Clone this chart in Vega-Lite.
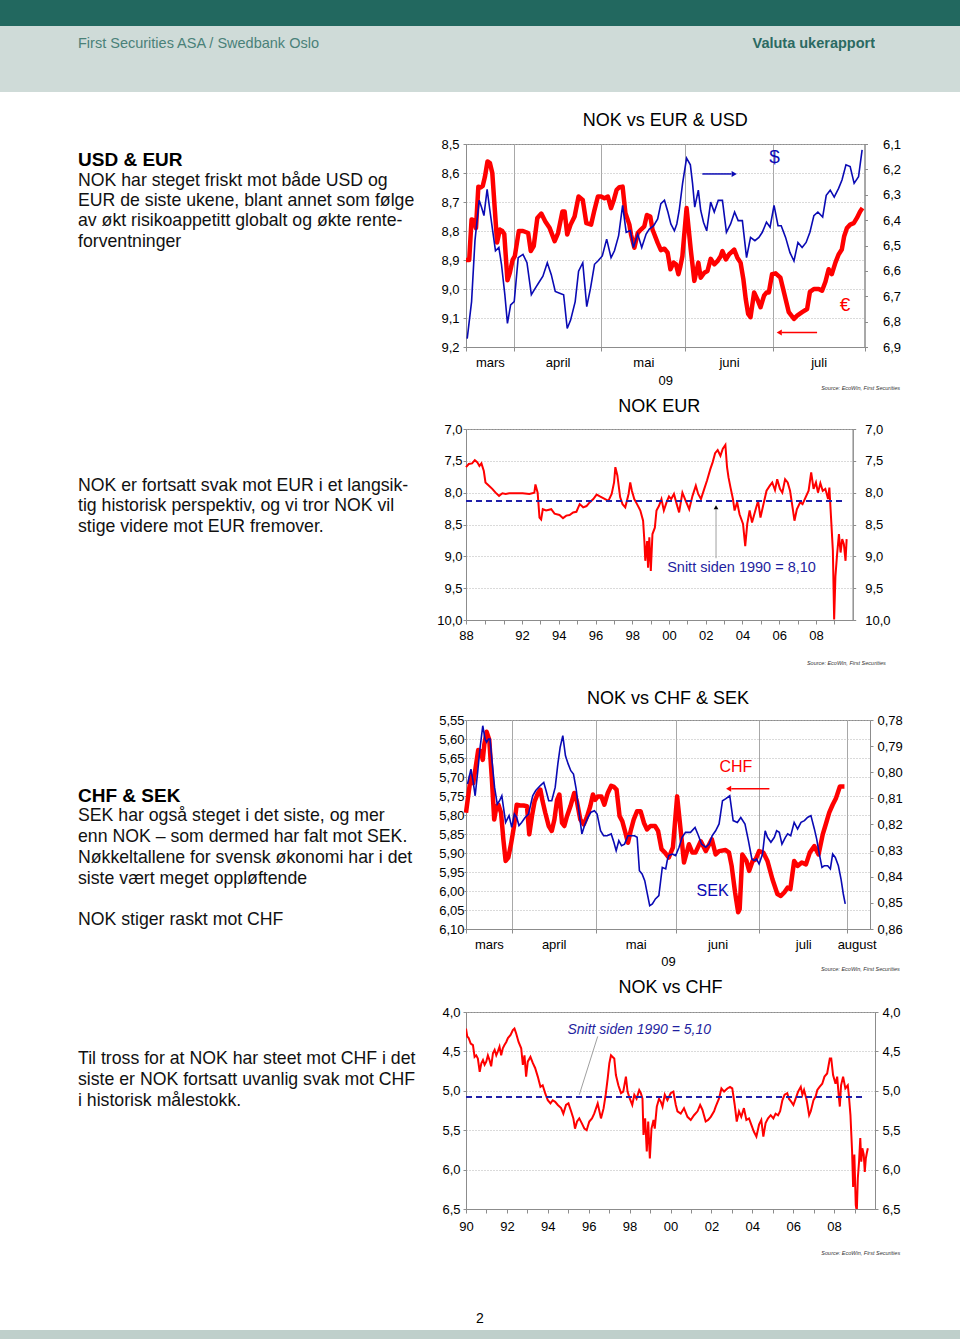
{
"$schema": "https://vega.github.io/schema/vega-lite/v6.json",
"padding": 0,
"background": "#ffffff",
"bounds": "flush",
"columns": 4,
"align": "each",
"spacing": {"row": 0, "column": 0},
"config": {
  "font": "Liberation Sans",
  "view": {"stroke": null},
  "axis": {"labelFont": "Liberation Sans", "labelFontSize": 13, "labelColor": "#000000", "domainColor": "#8c8c8c", "tickColor": "#8c8c8c", "titleFont": "Liberation Sans", "titleFontSize": 13, "titleFontWeight": "normal", "titleColor": "#000000", "gridColor": "#b4b4b4", "labelOverlap": false, "labelFlush": false},
  "title": {"font": "Liberation Sans", "fontSize": 18, "fontWeight": "normal", "color": "#000000", "offset": 8},
  "text": {"font": "Liberation Sans"}
},
"datasets": {
  "txt1": [
    {"line": 0, "indent": 0, "bold": true, "text": "USD & EUR"},
    {"line": 1, "indent": 0, "bold": false, "text": "NOK har steget friskt mot både USD og"},
    {"line": 2, "indent": 0, "bold": false, "text": "EUR de siste ukene, blant annet som følge"},
    {"line": 3, "indent": 0, "bold": false, "text": "av økt risikoappetitt globalt og økte rente-"},
    {"line": 4, "indent": 0, "bold": false, "text": "forventninger"}
  ],
  "txt2": [
    {"line": 16, "indent": 0, "bold": false, "text": "NOK er fortsatt svak mot EUR i et langsik-"},
    {"line": 17, "indent": 0, "bold": false, "text": "tig historisk perspektiv, og vi tror NOK vil"},
    {"line": 18, "indent": 0, "bold": false, "text": "stige videre mot EUR fremover."}
  ],
  "txt3": [
    {"line": 31, "indent": 0, "bold": true, "text": "CHF & SEK"},
    {"line": 32, "indent": 0, "bold": false, "text": "SEK har også steget i det siste, og mer"},
    {"line": 33, "indent": 0, "bold": false, "text": "enn NOK – som dermed har falt mot SEK."},
    {"line": 34, "indent": 0, "bold": false, "text": "Nøkkeltallene for svensk økonomi har i det"},
    {"line": 35, "indent": 0, "bold": false, "text": "siste vært meget oppløftende"},
    {"line": 37, "indent": 0, "bold": false, "text": "NOK stiger raskt mot CHF"}
  ],
  "txt4": [
    {"line": 44, "indent": 0, "bold": false, "text": "Til tross for at NOK har steet mot CHF i det"},
    {"line": 45, "indent": 0, "bold": false, "text": "siste er NOK fortsatt uvanlig svak mot CHF"},
    {"line": 46, "indent": 0, "bold": false, "text": "i historisk målestokk."}
  ],
  "c1eur": [{"d":0,"v":8.9},{"d":0.8,"v":8.9},{"d":1.4,"v":8.76},{"d":2,"v":8.763},{"d":2.5,"v":8.79},{"d":3.1,"v":8.647},{"d":3.7,"v":8.65},{"d":4.2,"v":8.645},{"d":4.75,"v":8.613},{"d":5.4,"v":8.56},{"d":6,"v":8.566},{"d":6.6,"v":8.6},{"d":7.25,"v":8.73},{"d":7.8,"v":8.84},{"d":8.5,"v":8.795},{"d":9.1,"v":8.8},{"d":9.6,"v":8.81},{"d":10.4,"v":8.97},{"d":11,"v":8.944},{"d":11.7,"v":8.9},{"d":12.25,"v":8.887},{"d":13.25,"v":8.8},{"d":14.3,"v":8.8},{"d":15.6,"v":8.807},{"d":16.25,"v":8.869},{"d":17,"v":8.852},{"d":17.9,"v":8.755},{"d":18.9,"v":8.74},{"d":19.9,"v":8.767},{"d":21,"v":8.79},{"d":22.25,"v":8.835},{"d":23.1,"v":8.807},{"d":24.2,"v":8.733},{"d":24.75,"v":8.733},{"d":25.4,"v":8.812},{"d":26.25,"v":8.778},{"d":27.25,"v":8.75},{"d":28.25,"v":8.681},{"d":29.3,"v":8.693},{"d":30.2,"v":8.773},{"d":31.4,"v":8.778},{"d":32.25,"v":8.727},{"d":33.1,"v":8.681},{"d":33.9,"v":8.681},{"d":34.75,"v":8.687},{"d":35.6,"v":8.681},{"d":36.4,"v":8.721},{"d":37.1,"v":8.693},{"d":37.8,"v":8.658},{"d":38.5,"v":8.649},{"d":39.3,"v":8.647},{"d":40,"v":8.738},{"d":41,"v":8.778},{"d":41.4,"v":8.812},{"d":42.25,"v":8.858},{"d":43.1,"v":8.807},{"d":43.9,"v":8.795},{"d":44.75,"v":8.784},{"d":45.4,"v":8.745},{"d":46.25,"v":8.75},{"d":46.8,"v":8.795},{"d":48.1,"v":8.841},{"d":48.9,"v":8.866},{"d":49.8,"v":8.861},{"d":50.6,"v":8.875},{"d":51.3,"v":8.932},{"d":52.1,"v":8.909},{"d":52.7,"v":8.915},{"d":53.3,"v":8.949},{"d":53.8,"v":8.921},{"d":54.3,"v":8.887},{"d":55.35,"v":8.721},{"d":56.4,"v":8.864},{"d":57.3,"v":8.972},{"d":58.3,"v":8.909},{"d":58.9,"v":8.961},{"d":59.8,"v":8.944},{"d":60.6,"v":8.938},{"d":61.4,"v":8.896},{"d":62.3,"v":8.915},{"d":63.1,"v":8.904},{"d":63.9,"v":8.887},{"d":64.35,"v":8.869},{"d":65.2,"v":8.898},{"d":66,"v":8.881},{"d":67.3,"v":8.864},{"d":68.1,"v":8.892},{"d":68.9,"v":8.909},{"d":69.6,"v":8.966},{"d":70.2,"v":9.035},{"d":70.8,"v":9.086},{"d":71.4,"v":9.097},{"d":72.3,"v":9.012},{"d":73.1,"v":9.035},{"d":73.9,"v":9.063},{"d":74.8,"v":9.023},{"d":75.4,"v":9.012},{"d":76,"v":9.012},{"d":76.8,"v":8.949},{"d":77.7,"v":8.946},{"d":78.9,"v":8.961},{"d":79.8,"v":9.012},{"d":81,"v":9.08},{"d":82.3,"v":9.103},{"d":83.1,"v":9.092},{"d":84.35,"v":9.08},{"d":85.6,"v":9.069},{"d":86.3,"v":9.01},{"d":87.3,"v":9},{"d":88.5,"v":9},{"d":89.35,"v":9.006},{"d":90.2,"v":8.975},{"d":91,"v":8.932},{"d":91.8,"v":8.949},{"d":92.7,"v":8.909},{"d":93.5,"v":8.881},{"d":94.3,"v":8.864},{"d":94.9,"v":8.818},{"d":95.6,"v":8.79},{"d":96.4,"v":8.778},{"d":97.3,"v":8.773},{"d":98.1,"v":8.755},{"d":98.9,"v":8.733},{"d":99.5,"v":8.721}],
  "c1usd": [{"d":0.3,"v":6.867},{"d":1.4,"v":6.721},{"d":2.25,"v":6.481},{"d":3.3,"v":6.322},{"d":3.9,"v":6.349},{"d":4.5,"v":6.382},{"d":5.3,"v":6.279},{"d":6,"v":6.362},{"d":6.7,"v":6.442},{"d":7.4,"v":6.521},{"d":8.25,"v":6.508},{"d":8.9,"v":6.574},{"d":9.75,"v":6.694},{"d":10.4,"v":6.807},{"d":11.2,"v":6.734},{"d":12.1,"v":6.721},{"d":13.1,"v":6.548},{"d":14.3,"v":6.535},{"d":15.3,"v":6.568},{"d":16.4,"v":6.694},{"d":17.4,"v":6.668},{"d":18.25,"v":6.647},{"d":19.3,"v":6.621},{"d":20.4,"v":6.568},{"d":21.4,"v":6.615},{"d":22.4,"v":6.681},{"d":23.5,"v":6.688},{"d":24.5,"v":6.694},{"d":25.4,"v":6.827},{"d":26.25,"v":6.794},{"d":27.4,"v":6.721},{"d":28.25,"v":6.601},{"d":29.3,"v":6.568},{"d":30.3,"v":6.741},{"d":31.25,"v":6.668},{"d":32.25,"v":6.574},{"d":33.1,"v":6.561},{"d":34.2,"v":6.541},{"d":35.3,"v":6.475},{"d":36.4,"v":6.548},{"d":37.25,"v":6.521},{"d":38.3,"v":6.461},{"d":39.3,"v":6.342},{"d":40.2,"v":6.448},{"d":41.25,"v":6.441},{"d":42,"v":6.508},{"d":43.1,"v":6.455},{"d":44.1,"v":6.508},{"d":45.2,"v":6.455},{"d":46,"v":6.435},{"d":47.1,"v":6.422},{"d":48.1,"v":6.395},{"d":48.9,"v":6.335},{"d":49.8,"v":6.322},{"d":50.7,"v":6.37},{"d":51.4,"v":6.415},{"d":52.3,"v":6.442},{"d":52.9,"v":6.415},{"d":53.5,"v":6.362},{"d":54.35,"v":6.255},{"d":55.35,"v":6.156},{"d":56.3,"v":6.182},{"d":56.85,"v":6.255},{"d":57.4,"v":6.349},{"d":58.3,"v":6.282},{"d":58.9,"v":6.362},{"d":59.6,"v":6.408},{"d":60.4,"v":6.442},{"d":61.4,"v":6.329},{"d":62.3,"v":6.368},{"d":63.3,"v":6.322},{"d":64.35,"v":6.322},{"d":65.35,"v":6.448},{"d":66.4,"v":6.415},{"d":67.4,"v":6.368},{"d":68.3,"v":6.402},{"d":69.35,"v":6.402},{"d":70.4,"v":6.548},{"d":71.4,"v":6.468},{"d":72.5,"v":6.481},{"d":73.5,"v":6.468},{"d":74.35,"v":6.448},{"d":75.4,"v":6.408},{"d":76.3,"v":6.428},{"d":77.3,"v":6.342},{"d":78.3,"v":6.422},{"d":79.1,"v":6.422},{"d":80.2,"v":6.468},{"d":81.3,"v":6.528},{"d":82.3,"v":6.561},{"d":83.3,"v":6.488},{"d":84.35,"v":6.508},{"d":85.35,"v":6.488},{"d":86.3,"v":6.448},{"d":87.3,"v":6.382},{"d":88.3,"v":6.368},{"d":89.5,"v":6.388},{"d":90.4,"v":6.302},{"d":91.4,"v":6.282},{"d":92.4,"v":6.309},{"d":93.5,"v":6.275},{"d":94.35,"v":6.242},{"d":95.35,"v":6.182},{"d":96.4,"v":6.189},{"d":97.4,"v":6.255},{"d":98.5,"v":6.229},{"d":99.4,"v":6.123}],
  "c2": [{"t":1988.95,"v":7.6},{"t":1989.1,"v":7.55},{"t":1989.28,"v":7.54},{"t":1989.43,"v":7.49},{"t":1989.56,"v":7.52},{"t":1989.68,"v":7.58},{"t":1989.79,"v":7.54},{"t":1989.92,"v":7.66},{"t":1990.01,"v":7.84},{"t":1990.2,"v":7.89},{"t":1990.38,"v":7.94},{"t":1990.56,"v":8.0},{"t":1990.75,"v":8.05},{"t":1990.93,"v":8.01},{"t":1991.11,"v":8.02},{"t":1991.3,"v":8.01},{"t":1991.66,"v":8.01},{"t":1992.03,"v":8.01},{"t":1992.4,"v":8.02},{"t":1992.67,"v":8.0},{"t":1992.73,"v":7.87},{"t":1992.85,"v":8.0},{"t":1992.95,"v":8.39},{"t":1993.04,"v":8.42},{"t":1993.13,"v":8.26},{"t":1993.31,"v":8.28},{"t":1993.59,"v":8.26},{"t":1993.77,"v":8.33},{"t":1994.04,"v":8.35},{"t":1994.23,"v":8.4},{"t":1994.41,"v":8.36},{"t":1994.59,"v":8.35},{"t":1994.78,"v":8.31},{"t":1994.96,"v":8.3},{"t":1995.14,"v":8.18},{"t":1995.33,"v":8.23},{"t":1995.51,"v":8.21},{"t":1995.69,"v":8.15},{"t":1995.88,"v":8.1},{"t":1996.06,"v":8.03},{"t":1996.24,"v":8.06},{"t":1996.52,"v":8.1},{"t":1996.7,"v":8.13},{"t":1996.88,"v":8.02},{"t":1997.01,"v":7.84},{"t":1997.08,"v":7.6},{"t":1997.19,"v":7.73},{"t":1997.34,"v":8.07},{"t":1997.47,"v":8.18},{"t":1997.62,"v":8.23},{"t":1997.8,"v":8.02},{"t":1997.89,"v":7.84},{"t":1997.98,"v":7.97},{"t":1998.11,"v":8.1},{"t":1998.26,"v":8.18},{"t":1998.44,"v":8.28},{"t":1998.59,"v":8.44},{"t":1998.66,"v":8.76},{"t":1998.71,"v":9.07},{"t":1998.81,"v":8.76},{"t":1998.86,"v":9.18},{"t":1998.93,"v":8.7},{"t":1999.01,"v":9.23},{"t":1999.1,"v":8.65},{"t":1999.23,"v":8.55},{"t":1999.32,"v":8.28},{"t":1999.45,"v":8.21},{"t":1999.59,"v":8.1},{"t":1999.72,"v":8.28},{"t":1999.87,"v":8.15},{"t":2000.0,"v":8.06},{"t":2000.12,"v":8.1},{"t":2000.27,"v":8.02},{"t":2000.42,"v":8.18},{"t":2000.55,"v":8.31},{"t":2000.73,"v":8.0},{"t":2000.91,"v":8.13},{"t":2001.1,"v":8.26},{"t":2001.28,"v":8.05},{"t":2001.46,"v":7.89},{"t":2001.59,"v":8.02},{"t":2001.74,"v":8.1},{"t":2001.92,"v":7.94},{"t":2002.07,"v":7.81},{"t":2002.25,"v":7.63},{"t":2002.38,"v":7.52},{"t":2002.51,"v":7.38},{"t":2002.65,"v":7.33},{"t":2002.8,"v":7.42},{"t":2002.93,"v":7.31},{"t":2003.07,"v":7.25},{"t":2003.16,"v":7.6},{"t":2003.24,"v":7.76},{"t":2003.35,"v":7.92},{"t":2003.48,"v":8.1},{"t":2003.57,"v":8.28},{"t":2003.71,"v":8.15},{"t":2003.84,"v":8.34},{"t":2004.03,"v":8.49},{"t":2004.15,"v":8.84},{"t":2004.26,"v":8.49},{"t":2004.39,"v":8.28},{"t":2004.52,"v":8.47},{"t":2004.67,"v":8.31},{"t":2004.85,"v":8.13},{"t":2004.98,"v":8.39},{"t":2005.12,"v":8.21},{"t":2005.31,"v":7.97},{"t":2005.49,"v":7.89},{"t":2005.62,"v":7.84},{"t":2005.77,"v":7.96},{"t":2005.89,"v":7.79},{"t":2006.04,"v":7.94},{"t":2006.17,"v":8.0},{"t":2006.32,"v":7.79},{"t":2006.46,"v":7.84},{"t":2006.59,"v":7.97},{"t":2006.74,"v":8.26},{"t":2006.83,"v":8.44},{"t":2006.96,"v":8.26},{"t":2007.14,"v":8.15},{"t":2007.27,"v":8.18},{"t":2007.41,"v":8.09},{"t":2007.6,"v":7.97},{"t":2007.74,"v":7.68},{"t":2007.87,"v":7.94},{"t":2008.0,"v":7.84},{"t":2008.11,"v":8.0},{"t":2008.24,"v":7.85},{"t":2008.37,"v":7.97},{"t":2008.51,"v":7.94},{"t":2008.66,"v":8.1},{"t":2008.73,"v":7.92},{"t":2008.84,"v":8.49},{"t":2008.92,"v":8.91},{"t":2008.99,"v":9.99},{"t":2009.06,"v":9.31},{"t":2009.15,"v":8.97},{"t":2009.25,"v":8.65},{"t":2009.34,"v":8.94},{"t":2009.43,"v":8.73},{"t":2009.52,"v":8.81},{"t":2009.61,"v":9.07},{"t":2009.67,"v":8.73}],
  "c3chf": [{"d":0,"v":5.794},{"d":0.8,"v":5.733},{"d":1.3,"v":5.698},{"d":1.9,"v":5.716},{"d":2.5,"v":5.677},{"d":3.2,"v":5.629},{"d":3.9,"v":5.633},{"d":4.4,"v":5.655},{"d":4.8,"v":5.615},{"d":5.4,"v":5.581},{"d":6.1,"v":5.602},{"d":6.8,"v":5.707},{"d":7.4,"v":5.812},{"d":8,"v":5.777},{"d":8.5,"v":5.773},{"d":9.2,"v":5.794},{"d":9.8,"v":5.864},{"d":10.4,"v":5.921},{"d":11.1,"v":5.912},{"d":11.8,"v":5.877},{"d":12.6,"v":5.829},{"d":13.3,"v":5.773},{"d":14.2,"v":5.775},{"d":15.1,"v":5.775},{"d":16,"v":5.777},{"d":16.6,"v":5.851},{"d":17.3,"v":5.803},{"d":18,"v":5.764},{"d":18.9,"v":5.742},{"d":19.5,"v":5.733},{"d":20.1,"v":5.764},{"d":20.8,"v":5.794},{"d":21.7,"v":5.829},{"d":22.5,"v":5.842},{"d":23.2,"v":5.812},{"d":23.9,"v":5.76},{"d":24.5,"v":5.746},{"d":25.2,"v":5.821},{"d":25.8,"v":5.829},{"d":26.5,"v":5.803},{"d":27.4,"v":5.777},{"d":28.4,"v":5.742},{"d":29.1,"v":5.764},{"d":30,"v":5.812},{"d":30.9,"v":5.825},{"d":31.8,"v":5.803},{"d":32.6,"v":5.777},{"d":33.3,"v":5.746},{"d":33.9,"v":5.76},{"d":34.6,"v":5.751},{"d":35.5,"v":5.751},{"d":36.3,"v":5.773},{"d":37.2,"v":5.742},{"d":38.1,"v":5.723},{"d":38.8,"v":5.726},{"d":39.5,"v":5.733},{"d":40.3,"v":5.803},{"d":41,"v":5.816},{"d":41.7,"v":5.842},{"d":42.5,"v":5.873},{"d":43.2,"v":5.842},{"d":44,"v":5.812},{"d":44.9,"v":5.79},{"d":45.8,"v":5.79},{"d":46.7,"v":5.821},{"d":47.5,"v":5.838},{"d":48.4,"v":5.829},{"d":49.6,"v":5.829},{"d":50.4,"v":5.842},{"d":51.3,"v":5.89},{"d":52.2,"v":5.899},{"d":53.2,"v":5.912},{"d":54.3,"v":5.885},{"d":55.4,"v":5.751},{"d":57.2,"v":5.925},{"d":58.5,"v":5.877},{"d":59.4,"v":5.899},{"d":60.2,"v":5.899},{"d":61.6,"v":5.869},{"d":62.9,"v":5.895},{"d":64.5,"v":5.864},{"d":65.5,"v":5.904},{"d":66.4,"v":5.895},{"d":68.1,"v":5.892},{"d":69,"v":5.899},{"d":69.7,"v":5.934},{"d":70.6,"v":6.004},{"d":71.4,"v":6.056},{"d":71.8,"v":6.048},{"d":72.5,"v":5.904},{"d":73.6,"v":5.921},{"d":74.3,"v":5.947},{"d":75.2,"v":5.921},{"d":76,"v":5.917},{"d":76.9,"v":5.895},{"d":78,"v":5.899},{"d":79.1,"v":5.921},{"d":80.4,"v":5.969},{"d":81.7,"v":6.008},{"d":82.6,"v":6.013},{"d":83.5,"v":6.004},{"d":84.4,"v":5.991},{"d":85.1,"v":5.995},{"d":86.1,"v":5.921},{"d":87,"v":5.934},{"d":88.1,"v":5.925},{"d":89.2,"v":5.93},{"d":90.2,"v":5.899},{"d":91.4,"v":5.882},{"d":92.5,"v":5.904},{"d":93.6,"v":5.851},{"d":94.5,"v":5.821},{"d":95.3,"v":5.794},{"d":96.2,"v":5.773},{"d":97.1,"v":5.755},{"d":98.1,"v":5.725},{"d":99.3,"v":5.725}],
  "c3sek": [{"d":0.4,"v":0.8045},{"d":1.3,"v":0.7988},{"d":1.9,"v":0.8039},{"d":2.4,"v":0.809},{"d":3.1,"v":0.7994},{"d":3.7,"v":0.7905},{"d":4.4,"v":0.7822},{"d":5,"v":0.7873},{"d":5.4,"v":0.7885},{"d":5.9,"v":0.7873},{"d":6.3,"v":0.7873},{"d":6.9,"v":0.7968},{"d":7.5,"v":0.8058},{"d":8.2,"v":0.8122},{"d":8.8,"v":0.8109},{"d":9.4,"v":0.809},{"d":10.4,"v":0.8192},{"d":11.3,"v":0.8166},{"d":12,"v":0.8211},{"d":12.7,"v":0.816},{"d":13.3,"v":0.8173},{"d":13.9,"v":0.8204},{"d":14.6,"v":0.8192},{"d":15.5,"v":0.8173},{"d":16.4,"v":0.816},{"d":17.5,"v":0.809},{"d":18.3,"v":0.807},{"d":19.5,"v":0.8051},{"d":20.4,"v":0.8039},{"d":21,"v":0.807},{"d":21.7,"v":0.8109},{"d":22.5,"v":0.8109},{"d":23.4,"v":0.8058},{"d":24.1,"v":0.7968},{"d":24.7,"v":0.7905},{"d":25.4,"v":0.786},{"d":26.1,"v":0.7937},{"d":26.8,"v":0.7968},{"d":27.5,"v":0.7994},{"d":28.2,"v":0.8007},{"d":28.9,"v":0.8064},{"d":29.6,"v":0.8147},{"d":30.4,"v":0.8236},{"d":31.1,"v":0.8204},{"d":32,"v":0.8173},{"d":32.8,"v":0.8153},{"d":33.7,"v":0.8147},{"d":34.4,"v":0.816},{"d":35.3,"v":0.8224},{"d":36.1,"v":0.8243},{"d":37,"v":0.8243},{"d":38.1,"v":0.8236},{"d":38.8,"v":0.8268},{"d":39.4,"v":0.83},{"d":40.1,"v":0.8262},{"d":40.8,"v":0.8281},{"d":41.6,"v":0.8275},{"d":42.5,"v":0.8243},{"d":43.3,"v":0.8243},{"d":44.2,"v":0.8243},{"d":44.9,"v":0.8249},{"d":45.5,"v":0.8377},{"d":46.2,"v":0.8389},{"d":46.9,"v":0.8415},{"d":47.5,"v":0.846},{"d":48.2,"v":0.8511},{"d":48.9,"v":0.8504},{"d":49.7,"v":0.8485},{"d":50.6,"v":0.8472},{"d":51.5,"v":0.8364},{"d":52.4,"v":0.837},{"d":52.8,"v":0.8338},{"d":53.2,"v":0.8319},{"d":54.1,"v":0.8313},{"d":55,"v":0.8319},{"d":55.9,"v":0.8287},{"d":56.7,"v":0.8249},{"d":57.6,"v":0.823},{"d":58.9,"v":0.823},{"d":60.1,"v":0.8211},{"d":61,"v":0.8243},{"d":61.8,"v":0.8275},{"d":62.9,"v":0.8287},{"d":63.8,"v":0.8275},{"d":64.6,"v":0.8243},{"d":65.5,"v":0.8224},{"d":66.4,"v":0.8198},{"d":67.3,"v":0.8109},{"d":68.1,"v":0.8102},{"d":69.2,"v":0.809},{"d":70.1,"v":0.8185},{"d":71.2,"v":0.8192},{"d":72.1,"v":0.8173},{"d":73.2,"v":0.8198},{"d":74.1,"v":0.8262},{"d":75,"v":0.8332},{"d":75.6,"v":0.8338},{"d":76.2,"v":0.8332},{"d":76.9,"v":0.8351},{"d":77.8,"v":0.8313},{"d":78.5,"v":0.8224},{"d":79.1,"v":0.8249},{"d":80,"v":0.8268},{"d":80.9,"v":0.8249},{"d":81.5,"v":0.8224},{"d":82.2,"v":0.823},{"d":82.9,"v":0.8275},{"d":83.8,"v":0.8249},{"d":84.4,"v":0.8236},{"d":85.2,"v":0.8243},{"d":86.1,"v":0.8192},{"d":87,"v":0.8217},{"d":87.9,"v":0.8192},{"d":88.8,"v":0.8185},{"d":89.6,"v":0.8173},{"d":90.5,"v":0.8166},{"d":91.4,"v":0.8217},{"d":92,"v":0.8255},{"d":92.7,"v":0.8313},{"d":93.4,"v":0.8364},{"d":94,"v":0.8358},{"d":94.9,"v":0.8358},{"d":95.6,"v":0.837},{"d":96.2,"v":0.8313},{"d":96.9,"v":0.8326},{"d":97.7,"v":0.8358},{"d":98.4,"v":0.8409},{"d":99,"v":0.8466},{"d":99.5,"v":0.8504}],
  "c4": [{"t":1990,"v":4.21},{"t":1990.06,"v":4.31},{"t":1990.13,"v":4.33},{"t":1990.23,"v":4.4},{"t":1990.34,"v":4.42},{"t":1990.42,"v":4.57},{"t":1990.5,"v":4.55},{"t":1990.58,"v":4.59},{"t":1990.67,"v":4.76},{"t":1990.75,"v":4.65},{"t":1990.83,"v":4.61},{"t":1990.91,"v":4.67},{"t":1990.99,"v":4.63},{"t":1991.07,"v":4.55},{"t":1991.15,"v":4.61},{"t":1991.23,"v":4.69},{"t":1991.32,"v":4.52},{"t":1991.4,"v":4.48},{"t":1991.48,"v":4.55},{"t":1991.56,"v":4.5},{"t":1991.64,"v":4.44},{"t":1991.72,"v":4.55},{"t":1991.8,"v":4.46},{"t":1991.88,"v":4.42},{"t":1991.97,"v":4.38},{"t":1992.05,"v":4.33},{"t":1992.18,"v":4.29},{"t":1992.29,"v":4.23},{"t":1992.37,"v":4.21},{"t":1992.45,"v":4.27},{"t":1992.57,"v":4.38},{"t":1992.7,"v":4.46},{"t":1992.78,"v":4.67},{"t":1992.86,"v":4.55},{"t":1992.94,"v":4.82},{"t":1993.02,"v":4.63},{"t":1993.15,"v":4.57},{"t":1993.27,"v":4.65},{"t":1993.38,"v":4.71},{"t":1993.51,"v":4.82},{"t":1993.64,"v":4.95},{"t":1993.75,"v":4.93},{"t":1993.87,"v":5.03},{"t":1994,"v":5.12},{"t":1994.13,"v":5.16},{"t":1994.24,"v":5.12},{"t":1994.36,"v":5.14},{"t":1994.49,"v":5.18},{"t":1994.65,"v":5.22},{"t":1994.76,"v":5.29},{"t":1994.89,"v":5.18},{"t":1995.01,"v":5.16},{"t":1995.14,"v":5.26},{"t":1995.25,"v":5.35},{"t":1995.33,"v":5.48},{"t":1995.43,"v":5.39},{"t":1995.54,"v":5.35},{"t":1995.66,"v":5.41},{"t":1995.79,"v":5.48},{"t":1995.9,"v":5.5},{"t":1996.03,"v":5.39},{"t":1996.16,"v":5.35},{"t":1996.27,"v":5.29},{"t":1996.44,"v":5.16},{"t":1996.6,"v":5.35},{"t":1996.73,"v":5.22},{"t":1996.83,"v":5.05},{"t":1996.93,"v":4.84},{"t":1997.01,"v":4.65},{"t":1997.09,"v":4.55},{"t":1997.17,"v":4.57},{"t":1997.25,"v":4.59},{"t":1997.33,"v":4.8},{"t":1997.45,"v":4.93},{"t":1997.58,"v":5.03},{"t":1997.69,"v":5.01},{"t":1997.82,"v":4.82},{"t":1997.9,"v":5.01},{"t":1998.01,"v":5.1},{"t":1998.13,"v":5.18},{"t":1998.23,"v":5.05},{"t":1998.34,"v":5.1},{"t":1998.47,"v":4.99},{"t":1998.55,"v":5.03},{"t":1998.63,"v":5.1},{"t":1998.68,"v":5.56},{"t":1998.76,"v":5.35},{"t":1998.84,"v":5.77},{"t":1998.91,"v":5.39},{"t":1998.99,"v":5.86},{"t":1999.07,"v":5.48},{"t":1999.17,"v":5.37},{"t":1999.23,"v":5.48},{"t":1999.33,"v":5.2},{"t":1999.44,"v":5.1},{"t":1999.53,"v":5.14},{"t":1999.61,"v":5.2},{"t":1999.72,"v":5.05},{"t":1999.85,"v":5.12},{"t":2000.01,"v":5.03},{"t":2000.14,"v":5.01},{"t":2000.26,"v":5.18},{"t":2000.34,"v":5.26},{"t":2000.5,"v":5.29},{"t":2000.66,"v":5.22},{"t":2000.83,"v":5.33},{"t":2000.99,"v":5.37},{"t":2001.15,"v":5.31},{"t":2001.32,"v":5.26},{"t":2001.45,"v":5.18},{"t":2001.56,"v":5.24},{"t":2001.72,"v":5.39},{"t":2001.84,"v":5.37},{"t":2001.97,"v":5.33},{"t":2002.13,"v":5.26},{"t":2002.21,"v":5.2},{"t":2002.37,"v":5.1},{"t":2002.49,"v":4.97},{"t":2002.62,"v":5.01},{"t":2002.78,"v":4.97},{"t":2002.91,"v":4.95},{"t":2003.02,"v":4.97},{"t":2003.14,"v":5.18},{"t":2003.24,"v":5.39},{"t":2003.35,"v":5.26},{"t":2003.46,"v":5.33},{"t":2003.59,"v":5.22},{"t":2003.71,"v":5.37},{"t":2003.84,"v":5.35},{"t":2003.95,"v":5.43},{"t":2004.08,"v":5.52},{"t":2004.2,"v":5.58},{"t":2004.33,"v":5.43},{"t":2004.44,"v":5.37},{"t":2004.54,"v":5.58},{"t":2004.65,"v":5.41},{"t":2004.77,"v":5.35},{"t":2004.9,"v":5.31},{"t":2005.03,"v":5.35},{"t":2005.14,"v":5.29},{"t":2005.26,"v":5.31},{"t":2005.36,"v":5.26},{"t":2005.47,"v":5.12},{"t":2005.58,"v":5.05},{"t":2005.71,"v":5.03},{"t":2005.79,"v":5.1},{"t":2005.91,"v":5.14},{"t":2006.01,"v":5.18},{"t":2006.12,"v":5.1},{"t":2006.24,"v":5.01},{"t":2006.37,"v":4.95},{"t":2006.45,"v":5.05},{"t":2006.53,"v":4.99},{"t":2006.66,"v":5.12},{"t":2006.78,"v":5.31},{"t":2006.86,"v":5.26},{"t":2006.99,"v":5.12},{"t":2007.1,"v":5.07},{"t":2007.18,"v":4.99},{"t":2007.29,"v":4.95},{"t":2007.42,"v":4.91},{"t":2007.53,"v":4.82},{"t":2007.66,"v":4.78},{"t":2007.79,"v":4.59},{"t":2007.86,"v":4.59},{"t":2007.95,"v":4.8},{"t":2008.07,"v":4.91},{"t":2008.15,"v":4.82},{"t":2008.23,"v":5.07},{"t":2008.28,"v":5.2},{"t":2008.34,"v":4.93},{"t":2008.44,"v":4.82},{"t":2008.55,"v":4.97},{"t":2008.67,"v":4.93},{"t":2008.72,"v":5.05},{"t":2008.8,"v":5.31},{"t":2008.88,"v":5.77},{"t":2008.93,"v":6.22},{"t":2008.99,"v":5.81},{"t":2009.06,"v":6.45},{"t":2009.11,"v":6.53},{"t":2009.16,"v":6.11},{"t":2009.22,"v":5.9},{"t":2009.28,"v":5.6},{"t":2009.33,"v":5.9},{"t":2009.38,"v":5.73},{"t":2009.45,"v":5.81},{"t":2009.5,"v":6.03},{"t":2009.55,"v":5.86},{"t":2009.6,"v":5.79},{"t":2009.65,"v":5.73}]
},
"concat": [
  {"width": 78, "height": 26, "data": {"values": []}, "mark": "point", "view": {"fill": "#22685f", "stroke": null}},
  {"width": 388, "height": 26, "data": {"values": []}, "mark": "point", "view": {"fill": "#22685f", "stroke": null}},
  {"width": 409, "height": 26, "data": {"values": []}, "mark": "point", "view": {"fill": "#22685f", "stroke": null}},
  {"width": 85, "height": 26, "data": {"values": []}, "mark": "point", "view": {"fill": "#22685f", "stroke": null}},

  {"width": 78, "height": 36, "data": {"values": []}, "mark": "point", "view": {"fill": "#cfdbd8", "stroke": null}},
  {"width": 388, "height": 36, "data": {"values": [{"indent": 0, "label": "First Securities ASA / Swedbank Oslo"}]}, "mark": {"type": "text", "align": "left", "fontSize": 14.5, "color": "#4a8178"}, "encoding": {"x": {"field": "indent", "type": "quantitative", "scale": {"domain": [0, 1]}, "axis": null}, "text": {"field": "label"}}, "view": {"fill": "#cfdbd8", "stroke": null}},
  {"width": 409, "height": 36, "data": {"values": [{"indent": 1, "label": "Valuta ukerapport"}]}, "mark": {"type": "text", "align": "right", "fontSize": 14.5, "fontWeight": "bold", "color": "#2b6a62"}, "encoding": {"x": {"field": "indent", "type": "quantitative", "scale": {"domain": [0, 1]}, "axis": null}, "text": {"field": "label"}}, "view": {"fill": "#cfdbd8", "stroke": null}},
  {"width": 85, "height": 36, "data": {"values": []}, "mark": "point", "view": {"fill": "#cfdbd8", "stroke": null}},

  {"width": 78, "height": 30, "data": {"values": []}, "mark": "point", "view": {"fill": "#cfdbd8", "stroke": null}},
  {"width": 388, "height": 30, "data": {"values": []}, "mark": "point", "view": {"fill": "#cfdbd8", "stroke": null}},
  {"width": 409, "height": 30, "data": {"values": []}, "mark": "point", "view": {"fill": "#cfdbd8", "stroke": null}},
  {"width": 85, "height": 30, "data": {"values": []}, "mark": "point", "view": {"fill": "#cfdbd8", "stroke": null}},

  {"width": 78, "height": 52, "data": {"values": []}, "mark": "point"},
  {"width": 1, "height": 1, "data": {"values": []}, "mark": "point"},
  {"width": 1, "height": 1, "data": {"values": []}, "mark": "point"},
  {"width": 1, "height": 1, "data": {"values": []}, "mark": "point"},

  {"width": 78, "height": 1, "data": {"values": []}, "mark": "point"},
  {"width": 388, "height": 285, "data": {"name": "txt1"},
   "encoding": {"x": {"field": "indent", "type": "quantitative", "scale": {"domain": [0, 1]}, "axis": null}, "y": {"field": "line", "type": "quantitative", "scale": {"domain": [-0.788, 13.162], "reverse": true, "nice": false, "zero": false}, "axis": null}, "text": {"field": "text"}},
   "layer": [
     {"transform": [{"filter": "datum.bold"}], "mark": {"type": "text", "align": "left", "baseline": "middle", "fontSize": 19, "fontWeight": "bold", "color": "#000000"}},
     {"transform": [{"filter": "!datum.bold"}], "mark": {"type": "text", "align": "left", "baseline": "middle", "fontSize": 17.7, "color": "#111111"}}
   ]},
  {"width": 398.5, "height": 203,
   "view": {"stroke": "#8c8c8c"},
   "title": {"text": "NOK vs EUR & USD", "offset": 8},
   "encoding": {"x": {"field": "d", "type": "quantitative", "scale": {"domain": [0, 100], "nice": false, "zero": false},
     "axis": {"values": [0, 6, 12, 23, 34, 44.5, 55, 66, 77, 88.5, 100],
       "labelExpr": "datum.value == 6 ? 'mars' : datum.value == 23 ? 'april' : datum.value == 44.5 ? 'mai' : datum.value == 66 ? 'juni' : datum.value == 88.5 ? 'juli' : ''",
       "grid": true, "gridColor": "#a8a8a8",
       "gridOpacity": {"condition": {"test": "datum.value == 12 || datum.value == 34 || datum.value == 55 || datum.value == 77", "value": 1}, "value": 0},
       "tickOpacity": {"condition": {"test": "datum.value == 0 || datum.value == 12 || datum.value == 34 || datum.value == 55 || datum.value == 77 || datum.value == 100", "value": 1}, "value": 0},
       "tickSize": 4, "labelPadding": 5, "title": "09", "titlePadding": 5}}},
   "layer": [
     {"data": {"name": "c1eur"}, "mark": {"type": "line", "color": "#ff0000", "strokeWidth": 4.5, "strokeJoin": "round"},
      "encoding": {"y": {"field": "v", "type": "quantitative", "scale": {"domain": [8.5, 9.2], "reverse": true, "nice": false, "zero": false},
        "axis": {"orient": "left", "values": [8.5, 8.6, 8.7, 8.8, 8.9, 9.0, 9.1, 9.2], "labelExpr": "replace(format(datum.value, '.1f'), '.', ',')", "grid": true, "gridDash": [1, 2], "tickSize": 3, "labelPadding": 4, "title": null}}}},
     {"data": {"name": "c1usd"}, "mark": {"type": "line", "color": "#0a0ab4", "strokeWidth": 1.6},
      "encoding": {"y": {"field": "v", "type": "quantitative", "scale": {"domain": [6.1, 6.9], "reverse": true, "nice": false, "zero": false},
        "axis": {"orient": "right", "values": [6.1, 6.2, 6.3, 6.4, 6.5, 6.6, 6.7, 6.8, 6.9], "labelExpr": "replace(format(datum.value, '.1f'), '.', ',')", "grid": false, "tickSize": 3, "labelPadding": 15, "title": null}}}},
     {"data": {"values": [{"d": 95.1, "v": 9.055, "label": "€"}]}, "mark": {"type": "text", "color": "#ff0000", "fontSize": 19}, "encoding": {"y": {"field": "v", "type": "quantitative", "scale": {"domain": [8.5, 9.2], "reverse": true, "nice": false, "zero": false}, "axis": null}, "text": {"field": "label"}}},
     {"data": {"values": [{"d": 88.1, "d2": 79.2, "v": 9.15}]}, "mark": {"type": "rule", "color": "#ff0000", "strokeWidth": 1.5}, "encoding": {"x2": {"field": "d2"}, "y": {"field": "v", "type": "quantitative", "scale": {"domain": [8.5, 9.2], "reverse": true, "nice": false, "zero": false}, "axis": null}}},
     {"data": {"values": [{"d": 78.6, "v": 9.15}]}, "mark": {"type": "point", "shape": "triangle-left", "filled": true, "color": "#ff0000", "size": 35, "opacity": 1}, "encoding": {"y": {"field": "v", "type": "quantitative", "scale": {"domain": [8.5, 9.2], "reverse": true, "nice": false, "zero": false}, "axis": null}}},
     {"data": {"values": [{"d": 108.9, "v": 9.341, "label": "Source: EcoWin, First Securities"}]}, "mark": {"type": "text", "align": "right", "fontSize": 5.5, "fontStyle": "italic", "color": "#333333"}, "encoding": {"y": {"field": "v", "type": "quantitative", "scale": {"domain": [8.5, 9.2], "reverse": true, "nice": false, "zero": false}, "axis": null}, "text": {"field": "label"}}},
     {"data": {"values": [{"d": 77.45, "v": 6.152, "label": "$"}]}, "mark": {"type": "text", "color": "#0a0ab4", "fontSize": 19}, "encoding": {"y": {"field": "v", "type": "quantitative", "scale": {"domain": [6.1, 6.9], "reverse": true, "nice": false, "zero": false}, "axis": null}, "text": {"field": "label"}}},
     {"data": {"values": [{"d": 59.3, "d2": 66.6, "v": 6.218}]}, "mark": {"type": "rule", "color": "#0a0ab4", "strokeWidth": 1.5}, "encoding": {"x2": {"field": "d2"}, "y": {"field": "v", "type": "quantitative", "scale": {"domain": [6.1, 6.9], "reverse": true, "nice": false, "zero": false}, "axis": null}}},
     {"data": {"values": [{"d": 67.3, "v": 6.218}]}, "mark": {"type": "point", "shape": "triangle-right", "filled": true, "color": "#0a0ab4", "size": 35, "opacity": 1}, "encoding": {"y": {"field": "v", "type": "quantitative", "scale": {"domain": [6.1, 6.9], "reverse": true, "nice": false, "zero": false}, "axis": null}}}
   ],
   "resolve": {"scale": {"y": "independent"}}},
  {"width": 1, "height": 1, "data": {"values": []}, "mark": "point"},

  {"width": 78, "height": 1, "data": {"values": []}, "mark": "point"},
  {"width": 388, "height": 291, "data": {"name": "txt2"},
   "encoding": {"x": {"field": "indent", "type": "quantitative", "scale": {"domain": [0, 1]}, "axis": null}, "y": {"field": "line", "type": "quantitative", "scale": {"domain": [13.22, 27.415], "reverse": true, "nice": false, "zero": false}, "axis": null}, "text": {"field": "text"}},
   "mark": {"type": "text", "align": "left", "baseline": "middle", "fontSize": 17.7, "color": "#111111"}},
  {"width": 386.7, "height": 191,
   "view": {"stroke": "#8c8c8c"},
   "title": {"text": "NOK EUR", "offset": 7},
   "encoding": {"x": {"field": "t", "type": "quantitative", "scale": {"domain": [1988.95, 2010], "nice": false, "zero": false},
     "axis": {"values": [1988.95, 1990, 1991, 1992, 1993, 1994, 1995, 1996, 1997, 1998, 1999, 2000, 2001, 2002, 2003, 2004, 2005, 2006, 2007, 2008, 2009],
       "labelExpr": "datum.value < 1989 ? '88' : ((datum.value >= 1992 && datum.value % 2 == 0) ? substring(toString(datum.value), 2, 4) : '')",
       "grid": false, "tickSize": 4, "labelPadding": 5, "title": null}}},
   "layer": [
     {"data": {"name": "c2"}, "mark": {"type": "line", "color": "#ff0000", "strokeWidth": 2},
      "encoding": {"y": {"field": "v", "type": "quantitative", "scale": {"domain": [7, 10], "reverse": true, "nice": false, "zero": false},
        "axis": {"orient": "left", "values": [7, 7.5, 8, 8.5, 9, 9.5, 10], "labelExpr": "replace(format(datum.value, '.1f'), '.', ',')", "grid": true, "gridDash": [1, 2], "tickSize": 3, "labelPadding": 1, "title": null}}}},
     {"data": {"values": [{"t": 1988.95, "t1": 2009.6, "v": 8.13}]}, "mark": {"type": "rule", "color": "#1f1fa8", "strokeWidth": 2, "strokeDash": [6, 4]},
      "encoding": {"x2": {"field": "t1"},
        "y": {"field": "v", "type": "quantitative", "scale": {"domain": [7, 10], "reverse": true, "nice": false, "zero": false},
        "axis": {"orient": "right", "values": [7, 7.5, 8, 8.5, 9, 9.5, 10], "labelExpr": "replace(format(datum.value, '.1f'), '.', ',')", "grid": false, "tickSize": 3, "labelPadding": 9, "title": null}}}},
     {"data": {"values": [{"t": 2002.56, "v": 9.03, "v2": 8.26}]}, "mark": {"type": "rule", "color": "#a0a0a0", "strokeWidth": 1}, "encoding": {"y": {"field": "v", "type": "quantitative", "scale": {"domain": [7, 10], "reverse": true, "nice": false, "zero": false}, "axis": null}, "y2": {"field": "v2"}}},
     {"data": {"values": [{"t": 2002.56, "v": 8.23}]}, "mark": {"type": "point", "shape": "triangle-up", "filled": true, "color": "#000000", "size": 22, "opacity": 1}, "encoding": {"y": {"field": "v", "type": "quantitative", "scale": {"domain": [7, 10], "reverse": true, "nice": false, "zero": false}, "axis": null}}},
     {"data": {"values": [{"t": 1999.9, "v": 9.18, "label": "Snitt siden 1990 = 8,10"}]}, "mark": {"type": "text", "align": "left", "fontSize": 14.5, "color": "#1f1fa0"}, "encoding": {"y": {"field": "v", "type": "quantitative", "scale": {"domain": [7, 10], "reverse": true, "nice": false, "zero": false}, "axis": null}, "text": {"field": "label"}}},
     {"data": {"values": [{"t": 2011.8, "v": 10.675, "label": "Source: EcoWin, First Securities"}]}, "mark": {"type": "text", "align": "right", "fontSize": 5.5, "fontStyle": "italic", "color": "#333333"}, "encoding": {"y": {"field": "v", "type": "quantitative", "scale": {"domain": [7, 10], "reverse": true, "nice": false, "zero": false}, "axis": null}, "text": {"field": "label"}}}
   ],
   "resolve": {"scale": {"y": "independent"}}},
  {"width": 1, "height": 1, "data": {"values": []}, "mark": "point"},

  {"width": 78, "height": 1, "data": {"values": []}, "mark": "point"},
  {"width": 388, "height": 292, "data": {"name": "txt3"},
   "encoding": {"x": {"field": "indent", "type": "quantitative", "scale": {"domain": [0, 1]}, "axis": null}, "y": {"field": "line", "type": "quantitative", "scale": {"domain": [27.37, 41.409], "reverse": true, "nice": false, "zero": false}, "axis": null}, "text": {"field": "text"}},
   "layer": [
     {"transform": [{"filter": "datum.bold"}], "mark": {"type": "text", "align": "left", "baseline": "middle", "fontSize": 19, "fontWeight": "bold", "color": "#000000"}},
     {"transform": [{"filter": "!datum.bold"}], "mark": {"type": "text", "align": "left", "baseline": "middle", "fontSize": 17.7, "color": "#111111"}}
   ]},
  {"width": 404, "height": 209,
   "view": {"stroke": "#8c8c8c"},
   "title": {"text": "NOK vs CHF & SEK", "offset": 6.5},
   "encoding": {"x": {"field": "d", "type": "quantitative", "scale": {"domain": [0, 106], "nice": false, "zero": false},
     "axis": {"values": [0, 6, 12, 23, 34, 44.5, 55, 66, 77, 88.5, 100, 102.5],
       "labelExpr": "datum.value == 6 ? 'mars' : datum.value == 23 ? 'april' : datum.value == 44.5 ? 'mai' : datum.value == 66 ? 'juni' : datum.value == 88.5 ? 'juli' : datum.value == 102.5 ? 'august' : ''",
       "grid": true, "gridColor": "#a8a8a8",
       "gridOpacity": {"condition": {"test": "datum.value == 12 || datum.value == 34 || datum.value == 55 || datum.value == 77 || datum.value == 100", "value": 1}, "value": 0},
       "tickOpacity": {"condition": {"test": "datum.value == 0 || datum.value == 12 || datum.value == 34 || datum.value == 55 || datum.value == 77 || datum.value == 100", "value": 1}, "value": 0},
       "tickSize": 4, "labelPadding": 5, "title": "09", "titlePadding": 4}}},
   "layer": [
     {"data": {"name": "c3chf"}, "mark": {"type": "line", "color": "#ff0000", "strokeWidth": 4.5, "strokeJoin": "round"},
      "encoding": {"y": {"field": "v", "type": "quantitative", "scale": {"domain": [5.55, 6.1], "reverse": true, "nice": false, "zero": false},
        "axis": {"orient": "left", "values": [5.55, 5.6, 5.65, 5.7, 5.75, 5.8, 5.85, 5.9, 5.95, 6.0, 6.05, 6.1], "labelExpr": "replace(format(datum.value, '.2f'), '.', ',')", "grid": true, "gridDash": [1, 2], "tickSize": 2, "labelPadding": 0, "title": null}}}},
     {"data": {"name": "c3sek"}, "mark": {"type": "line", "color": "#0a0ab4", "strokeWidth": 1.6},
      "encoding": {"y": {"field": "v", "type": "quantitative", "scale": {"domain": [0.78, 0.86], "reverse": true, "nice": false, "zero": false},
        "axis": {"orient": "right", "values": [0.78, 0.79, 0.8, 0.81, 0.82, 0.83, 0.84, 0.85, 0.86], "labelExpr": "replace(format(datum.value, '.2f'), '.', ',')", "grid": false, "tickSize": 3, "labelPadding": 4, "title": null}}}},
     {"data": {"values": [{"d": 70.8, "v": 5.674, "label": "CHF"}]}, "mark": {"type": "text", "color": "#ff0000", "fontSize": 16}, "encoding": {"y": {"field": "v", "type": "quantitative", "scale": {"domain": [5.55, 6.1], "reverse": true, "nice": false, "zero": false}, "axis": null}, "text": {"field": "label"}}},
     {"data": {"values": [{"d": 79.6, "d2": 69.6, "v": 5.731}]}, "mark": {"type": "rule", "color": "#ff0000", "strokeWidth": 1.5}, "encoding": {"x2": {"field": "d2"}, "y": {"field": "v", "type": "quantitative", "scale": {"domain": [5.55, 6.1], "reverse": true, "nice": false, "zero": false}, "axis": null}}},
     {"data": {"values": [{"d": 68.9, "v": 5.731}]}, "mark": {"type": "point", "shape": "triangle-left", "filled": true, "color": "#ff0000", "size": 35, "opacity": 1}, "encoding": {"y": {"field": "v", "type": "quantitative", "scale": {"domain": [5.55, 6.1], "reverse": true, "nice": false, "zero": false}, "axis": null}}},
     {"data": {"values": [{"d": 113.8, "v": 6.205, "label": "Source: EcoWin, First Securities"}]}, "mark": {"type": "text", "align": "right", "fontSize": 5.5, "fontStyle": "italic", "color": "#333333"}, "encoding": {"y": {"field": "v", "type": "quantitative", "scale": {"domain": [5.55, 6.1], "reverse": true, "nice": false, "zero": false}, "axis": null}, "text": {"field": "label"}}},
     {"data": {"values": [{"d": 64.7, "v": 0.8453, "label": "SEK"}]}, "mark": {"type": "text", "color": "#0a0ab4", "fontSize": 16}, "encoding": {"y": {"field": "v", "type": "quantitative", "scale": {"domain": [0.78, 0.86], "reverse": true, "nice": false, "zero": false}, "axis": null}, "text": {"field": "label"}}}
   ],
   "resolve": {"scale": {"y": "independent"}}},
  {"width": 1, "height": 1, "data": {"values": []}, "mark": "point"},

  {"width": 78, "height": 1, "data": {"values": []}, "mark": "point"},
  {"width": 388, "height": 295, "data": {"name": "txt4"},
   "encoding": {"x": {"field": "indent", "type": "quantitative", "scale": {"domain": [0, 1]}, "axis": null}, "y": {"field": "line", "type": "quantitative", "scale": {"domain": [41.683, 56.073], "reverse": true, "nice": false, "zero": false}, "axis": null}, "text": {"field": "text"}},
   "mark": {"type": "text", "align": "left", "baseline": "middle", "fontSize": 17.7, "color": "#111111"}},
  {"width": 409, "height": 197,
   "view": {"stroke": "#8c8c8c"},
   "title": {"text": "NOK vs CHF", "offset": 9},
   "encoding": {"x": {"field": "t", "type": "quantitative", "scale": {"domain": [1990, 2010], "nice": false, "zero": false},
     "axis": {"values": [1990, 1991, 1992, 1993, 1994, 1995, 1996, 1997, 1998, 1999, 2000, 2001, 2002, 2003, 2004, 2005, 2006, 2007, 2008, 2009],
       "labelExpr": "datum.value % 2 == 0 ? substring(toString(datum.value), 2, 4) : ''",
       "grid": false, "tickSize": 4, "labelPadding": 7, "title": null}}},
   "layer": [
     {"data": {"name": "c4"}, "mark": {"type": "line", "color": "#ff0000", "strokeWidth": 2, "clip": true},
      "encoding": {"y": {"field": "v", "type": "quantitative", "scale": {"domain": [4, 6.5], "reverse": true, "nice": false, "zero": false},
        "axis": {"orient": "left", "values": [4, 4.5, 5, 5.5, 6, 6.5], "labelExpr": "replace(format(datum.value, '.1f'), '.', ',')", "grid": true, "gridDash": [1, 2], "tickSize": 3, "labelPadding": 3, "title": null}}}},
     {"data": {"values": [{"t": 1990, "t1": 2009.53, "v": 5.08}]}, "mark": {"type": "rule", "color": "#1f1fa8", "strokeWidth": 2, "strokeDash": [6, 4]},
      "encoding": {"x2": {"field": "t1"},
        "y": {"field": "v", "type": "quantitative", "scale": {"domain": [4, 6.5], "reverse": true, "nice": false, "zero": false},
        "axis": {"orient": "right", "values": [4, 4.5, 5, 5.5, 6, 6.5], "labelExpr": "replace(format(datum.value, '.1f'), '.', ',')", "grid": false, "tickSize": 3, "labelPadding": 4, "title": null}}}},
     {"data": {"values": [{"t": 1996.44, "t2": 1995.54, "v": 4.31, "v2": 5.05}]}, "mark": {"type": "rule", "color": "#a0a0a0", "strokeWidth": 1}, "encoding": {"x2": {"field": "t2"}, "y": {"field": "v", "type": "quantitative", "scale": {"domain": [4, 6.5], "reverse": true, "nice": false, "zero": false}, "axis": null}, "y2": {"field": "v2"}}},
     {"data": {"values": [{"t": 1998.47, "v": 4.228, "label": "Snitt siden 1990 = 5,10"}]}, "mark": {"type": "text", "fontSize": 14, "fontStyle": "italic", "color": "#1f1fa0"}, "encoding": {"y": {"field": "v", "type": "quantitative", "scale": {"domain": [4, 6.5], "reverse": true, "nice": false, "zero": false}, "axis": null}, "text": {"field": "label"}}},
     {"data": {"values": [{"t": 2011.23, "v": 7.06, "label": "Source: EcoWin, First Securities"}]}, "mark": {"type": "text", "align": "right", "fontSize": 5.5, "fontStyle": "italic", "color": "#333333"}, "encoding": {"y": {"field": "v", "type": "quantitative", "scale": {"domain": [4, 6.5], "reverse": true, "nice": false, "zero": false}, "axis": null}, "text": {"field": "label"}}}
   ],
   "resolve": {"scale": {"y": "independent"}}},
  {"width": 1, "height": 1, "data": {"values": []}, "mark": "point"},

  {"width": 78, "height": 23, "data": {"values": []}, "mark": "point"},
  {"width": 1, "height": 1, "data": {"values": []}, "mark": "point"},
  {"width": 1, "height": 1, "data": {"values": []}, "mark": "point"},
  {"width": 1, "height": 1, "data": {"values": []}, "mark": "point"},

  {"width": 78, "height": 9, "data": {"values": []}, "mark": "point", "view": {"fill": "#bfcfcb", "stroke": null}},
  {"width": 388, "height": 9, "data": {"values": []}, "mark": "point", "view": {"fill": "#bfcfcb", "stroke": null}},
  {"width": 409, "height": 9, "data": {"values": []}, "mark": "point", "view": {"fill": "#bfcfcb", "stroke": null}, "title": {"text": "2", "anchor": "start", "orient": "top", "offset": 4, "dx": 10, "fontSize": 14, "fontWeight": "normal", "color": "#000000"}},
  {"width": 85, "height": 9, "data": {"values": []}, "mark": "point", "view": {"fill": "#bfcfcb", "stroke": null}}
]
}
